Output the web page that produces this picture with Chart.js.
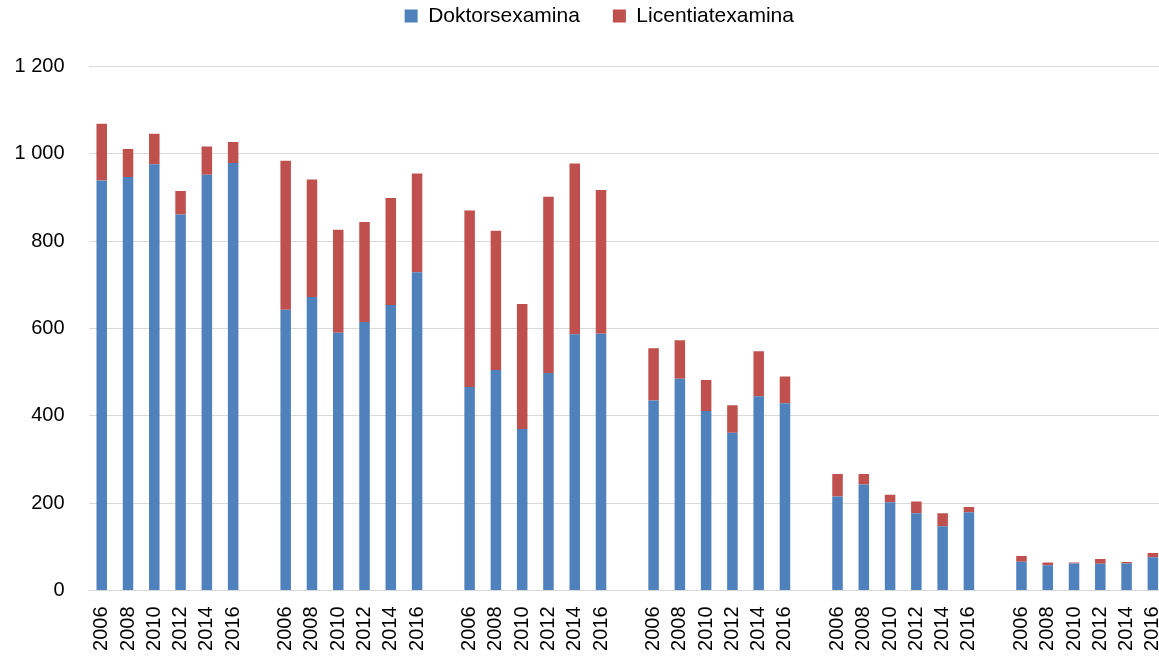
<!DOCTYPE html>
<html>
<head>
<meta charset="utf-8">
<style>
  html, body { margin: 0; padding: 0; background: #fff; overflow: hidden; }
  #wrap { position: relative; width: 1184px; height: 657px; }
</style>
</head>
<body>
<div id="wrap"><canvas id="grafico"></canvas></div>

<script src="https://cdn.jsdelivr.net/npm/chart.js"></script>
<script>
  // år per grupp, sex grupper med ett tomt fack emellan
  const years = ["2006", "2008", "2010", "2012", "2014", "2016"];

  const doktorsexamina = [
    [939, 947, 976, 861, 952, 979],
    [643, 672, 590, 615, 654, 729],
    [466, 505, 370, 498, 587, 588],
    [435, 485, 411, 361, 445, 429],
    [215, 243, 202, 177, 147, 179],
    [66, 58, 62, 61, 62, 76]
  ];

  const licentiatexamina = [
    [130, 64, 70, 54, 65, 48],
    [341, 269, 236, 229, 245, 226],
    [404, 319, 286, 404, 391, 329],
    [120, 88, 71, 63, 103, 61],
    [52, 24, 17, 27, 30, 12],
    [13, 6, 2, 11, 3, 10]
  ];

  const yTicks = [0, 200, 400, 600, 800, 1000, 1200];

  // platta ut grupperna, med tomt fack mellan dem
  const labels = [];
  const dokt = [];
  const lic = [];
  doktorsexamina.forEach((grp, g) => {
    years.forEach((y, i) => {
      labels.push(y);
      dokt.push(grp[i]);
      lic.push(licentiatexamina[g][i]);
    });
    if (g < doktorsexamina.length - 1) {
      labels.push("");
      dokt.push(null);
      lic.push(null);
    }
  });

  const formatTal = v => String(v).replace(/\B(?=(\d{3})+(?!\d))/g, " ");

  // extra luft under legenden, och lite förskjutning åt höger
  const legendMargin = {
    id: "legendMargin",
    beforeInit(chart) {
      const lg = chart.legend;
      const fit = lg.fit;
      lg.fit = function () {
        fit.bind(lg)();
        this.height += 30;
      };
      const draw = lg.draw;
      lg.draw = function () {
        const c = chart.ctx;
        c.save();
        c.translate(9, 0);
        draw.bind(lg)();
        c.restore();
      };
    }
  };

  const font = { family: "'Liberation Sans', Arial, sans-serif", size: 20 };

  const ctx = document.getElementById("grafico").getContext("2d");

  new Chart(ctx, {
    type: "bar",
    data: {
      labels,
      datasets: [
        {
          label: "Doktorsexamina",
          data: dokt,
          backgroundColor: "#4F81BD",
          barPercentage: 0.4,
          categoryPercentage: 1.0
        },
        {
          label: "Licentiatexamina",
          data: lic,
          backgroundColor: "#C0504D",
          barPercentage: 0.4,
          categoryPercentage: 1.0
        }
      ]
    },
    options: {
      responsive: true,
      maintainAspectRatio: false,
      animation: false,
      layout: { padding: { left: 14.6, right: 18, top: -27.5, bottom: 4 } },
      plugins: {
        legend: {
          position: "top",
          labels: {
            boxWidth: 13,
            boxHeight: 13,
            padding: 33,
            color: "#000",
            font: { family: "'Liberation Sans', Arial, sans-serif", size: 21 }
          }
        },
        tooltip: { enabled: false }
      },
      scales: {
        x: {
          stacked: true,
          grid: { display: false, drawTicks: false },
          border: { display: true, color: "#d9d9d9", width: 1 },
          ticks: {
            autoSkip: false,
            minRotation: 90,
            maxRotation: 90,
            padding: 16,
            color: "#000",
            font
          },
          afterFit: s => { s.paddingLeft = 0; s.paddingRight = 0; s.height = 62.5; }
        },
        y: {
          stacked: true,
          min: 0,
          max: 1200,
          afterBuildTicks: axis => { axis.ticks = yTicks.map(v => ({ value: v })); },
          grid: { color: "#d9d9d9", lineWidth: 1, drawTicks: false },
          border: { display: false },
          ticks: {
            padding: 24,
            color: "#000",
            font,
            callback: v => formatTal(v)
          },
          afterFit: s => { s.width = 74; }
        }
      }
    },
    plugins: [legendMargin]
  });
</script>
</body>
</html>
